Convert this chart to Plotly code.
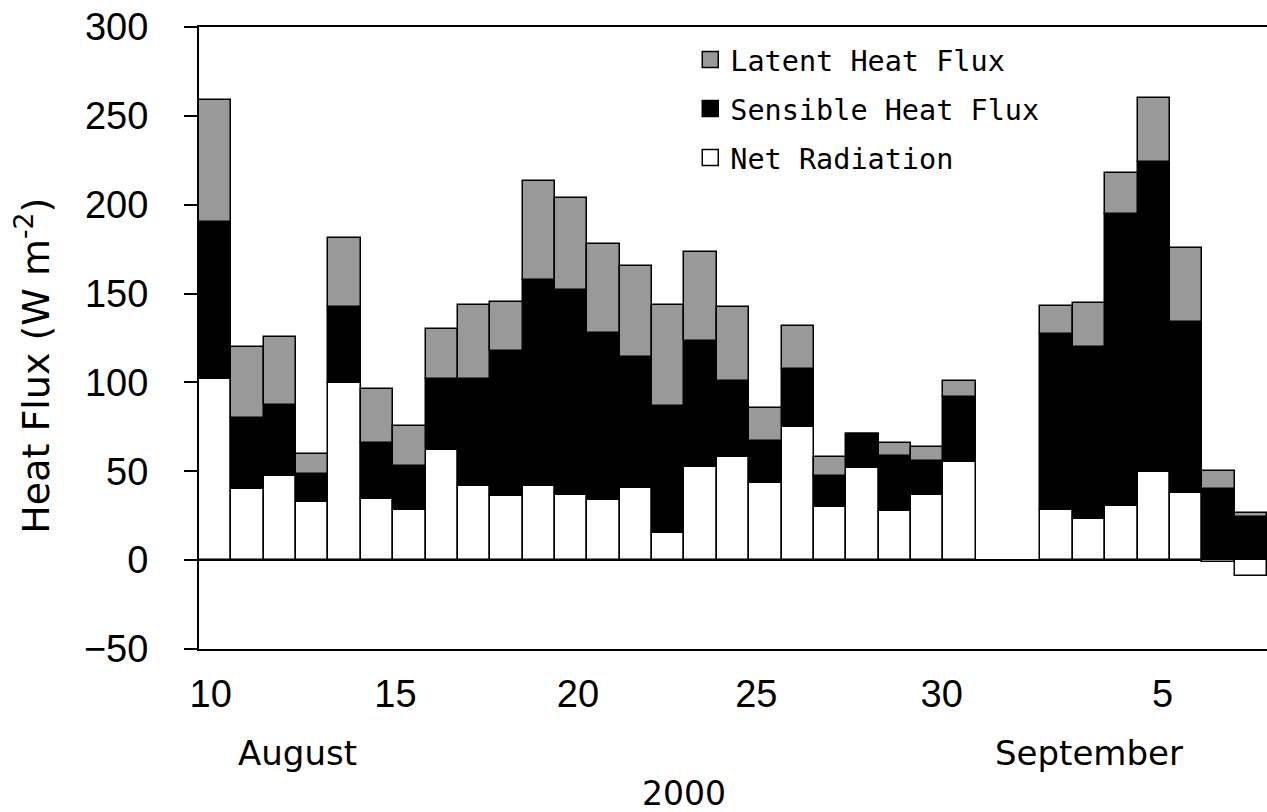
import plotly.graph_objects as go

# 33 bar slots (two empty slots = missing data)
slots = list(range(33))
net_radiation = [102, 40, 47.5, 33, 99.5, 34.5, 28, 62, 41.5, 36, 41.5, 36.5, 34, 40.5, 15.5,
                 52.5, 58, 43.5, 75, 30, 52, 27.5, 36.5, 55, None, None,
                 28, 23, 30.5, 49.5, 38, -1, -9]
sensible_heat = [88, 40, 40, 15.5, 43, 31.5, 25, 40, 60.5, 81.5, 116, 115.5, 94, 74, 71,
                 71, 43, 23.5, 32.5, 17.5, 19, 31, 19.5, 37, None, None,
                 99.5, 97, 164.5, 174.5, 96, 40, 24.5]
latent_heat = [69, 40, 38, 11.5, 38.5, 30.5, 22.5, 28, 41.5, 27.5, 56, 52, 50, 51, 57,
               50, 41.5, 18.5, 24, 10.5, 0, 7.5, 7.5, 9, None, None,
               15.5, 24.5, 23, 36, 41.5, 10, 2]

tick_positions = [-0.14, 5.57, 11.21, 16.72, 22.45, 29.27]
tick_labels = ["10", "15", "20", "25", "30", "5"]

FONT = "Liberation Sans, Arial, sans-serif"
WIDE = "DejaVu Sans, sans-serif"
MONO = "DejaVu Sans Mono, monospace"

fig = go.Figure()
series = [("Net Radiation", net_radiation, "#ffffff"),
          ("Sensible Heat Flux", sensible_heat, "#000000"),
          ("Latent Heat Flux", latent_heat, "#999999")]
for name, vals, col in series:
    fig.add_trace(go.Bar(x=slots, y=vals, name=name, width=1,
                         marker=dict(color=col, line=dict(color="black", width=1.5)),
                         showlegend=False))

# legend entries (top to bottom)
for name, vals, col in series[::-1]:
    fig.add_trace(go.Scatter(x=[None], y=[None], mode="markers", name=name,
                             legendgroup=name,
                             marker=dict(symbol="square", size=16, color=col,
                                         line=dict(color="black", width=1.5))))

fig.update_layout(
    width=1267, height=812,
    margin=dict(l=199, r=0, t=27, b=163),
    paper_bgcolor="white", plot_bgcolor="white",
    barmode="relative", bargap=0,
    font=dict(family=FONT, color="black"),
    legend=dict(x=0.46, y=0.988, xanchor="left", yanchor="top",
                font=dict(size=28.5, family=MONO), bgcolor="rgba(0,0,0,0)",
                traceorder="grouped", tracegroupgap=9, itemwidth=30),
    xaxis=dict(range=[-0.5, 32.5], tickvals=tick_positions, ticktext=tick_labels,
               ticks="", showline=True, linecolor="black", linewidth=2, mirror=True,
               showgrid=False, zeroline=False, tickfont=dict(size=38),
               ticklabelstandoff=10),
    yaxis=dict(range=[-50, 300], dtick=50, ticks="outside", ticklen=13, tickwidth=2,
               tickcolor="black", showline=True, linecolor="black", linewidth=2,
               showgrid=False, zeroline=True, zerolinecolor="black", zerolinewidth=2,
               tickfont=dict(size=38), ticklabelstandoff=28),
    annotations=[
        dict(text="Heat Flux (W m<sup>-2</sup>)", x=-0.155, y=0.456,
             xref="paper", yref="paper", textangle=-90, showarrow=False,
             xanchor="center", yanchor="middle", font=dict(size=38, family=WIDE)),
        dict(text="August", x=2.55, y=-0.168, xref="x", yref="paper",
             showarrow=False, font=dict(size=34, family=WIDE), yanchor="middle"),
        dict(text="September", x=27.0, y=-0.168, xref="x", yref="paper",
             showarrow=False, font=dict(size=34, family=WIDE), yanchor="middle"),
        dict(text="2000", x=14.48, y=-0.2325, xref="x", yref="paper",
             showarrow=False, font=dict(size=33, family=WIDE), yanchor="middle"),
    ],
)

fig.write_html("out.html")
